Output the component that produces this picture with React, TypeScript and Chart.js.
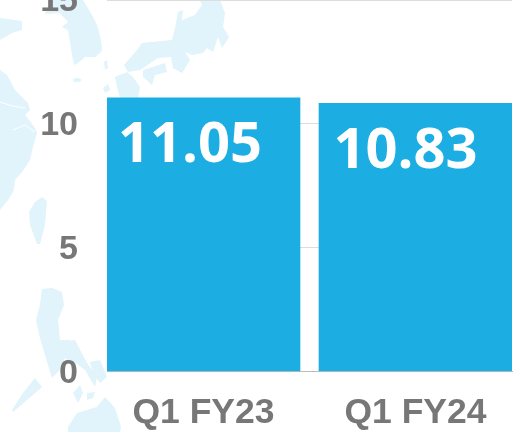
import React, { useEffect, useRef } from "react";
import { Chart, registerables } from "chart.js";

Chart.register(...registerables);

const categories = ["Q1 FY23", "Q1 FY24"];
const seriesValues = [11.05, 10.83];
const valueLabels = ["11.05", "10.83"];
const yTicks = [0, 5, 10, 15];

const mapShapes = [
  "0,18 22,21 22,30 12,33 0,40",
  "45,14 60,13 68,22 62,27 68,30 70,42 72,55 74,65 78,63 85,57 95,57 100,53 102,50 101,40 97,25 92,15 83,0 50,0",
  "0,70 7,75 15,90 28,103 30,110 25,115 35,128 37,133 33,147 30,160 22,172 15,180 14,190 8,200 0,210",
  "42,197 47,201 45,225 40,244 37,244 30,225 29,212 35,202",
  "42,289 52,288 62,292 64,305 58,320 60,340 70,340 82,357 75,365 65,358 60,370 52,378 45,355 40,338 36,320 40,305",
  "68,427 77,413 97,407 105,397 115,408 121,427 120,432 68,432",
  "90,362 100,360 107,377 100,383 93,373",
  "35,378 42,387 27,400 13,412 12,410 23,393",
  "73,393 80,385 83,393 78,403",
  "87,393 95,392 93,398 87,400",
  "48,352 57,357 57,367 52,363",
  "63,342 75,340 87,363 97,377 95,387 85,370 72,360",
  "200,0 220,0 225,13 223,27 229,37 222,48 218,37 213,52 207,48 203,53 192,55 185,52 190,60 182,73 173,68 171,57 158,58 140,70 128,72 124,65 137,50 142,43 172,40 175,28 178,12 183,10 182,20 195,15 202,5",
  "143,70 165,63 167,72 155,75 152,85 143,77",
  "115,77 127,72 133,77 140,87 138,98 120,98 117,87",
  "103,88 108,84 110,90 105,93",
  "104,62 107,60 108,68 105,70",
];

const labelInsets = [11, 14.5];

const valueLabelPlugin = {
  id: "valueLabels",
  beforeDraw(chart: any) {
    chart.scales.y.getLabelItems(chart.chartArea).forEach((item: any) => {
      item.options.translation = [item.options.translation[0], item.options.translation[1] + 2];
    });
  },
  afterDatasetsDraw(chart: any) {
    const { ctx } = chart;
    const meta = chart.getDatasetMeta(0);
    ctx.save();
    ctx.fillStyle = "#ffffff";
    ctx.font = '700 56px "Open Sans"';
    ctx.textAlign = "left";
    ctx.textBaseline = "alphabetic";
    meta.data.forEach((bar: any, i: number) => {
      ctx.fillText(valueLabels[i], bar.x - 96.5 + labelInsets[i], bar.y + 64.5);
    });
    ctx.restore();
  },
};

export default function App() {
  const ref = useRef<HTMLCanvasElement>(null);

  useEffect(() => {
    if (!ref.current) return;
    const chart = new Chart(ref.current, {
      type: "bar",
      data: {
        datasets: [
          {
            data: categories.map((_, i) => ({ x: i, y: seriesValues[i] })),
            backgroundColor: "#1cade2",
            barThickness: 193,
          },
        ],
      },
      options: {
        responsive: false,
        animation: false,
        layout: { padding: { top: 20, right: 15, left: 0, bottom: 0 } },
        plugins: { legend: { display: false }, tooltip: { enabled: false } },
        scales: {
          x: {
            type: "linear",
            offset: false,
            min: -0.4552,
            max: 1.4552,
            grid: { display: false, drawTicks: false, offset: false },
            border: { display: true, color: "#bbbbbb" },
            ticks: {
              stepSize: 1,
              includeBounds: false,
              autoSkip: false,
              maxRotation: 0,
              padding: 20,
              color: "#777777",
              font: { family: '"Liberation Sans"', size: 35.5, weight: "bold" },
              callback: (v: any) => categories[v] ?? "",
            },
            afterFit: (s: any) => {
              s.height = 60.5;
              s.paddingLeft = 0;
              s.paddingRight = 0;
            },
          },
          y: {
            min: yTicks[0],
            max: yTicks[yTicks.length - 1],
            grid: { color: "#dddddd", drawTicks: false, lineWidth: 1 },
            border: { display: false },
            ticks: {
              stepSize: 5,
              padding: 29,
              color: "#777777",
              font: { family: '"Liberation Sans"', size: 34, weight: "bold" },
            },
            afterFit: (s: any) => {
              s.width = 107;
              s.paddingTop = 0;
              s.paddingBottom = 0;
            },
          },
        },
      },
      plugins: [valueLabelPlugin],
    } as any);
    return () => chart.destroy();
  }, []);

  return (
    <div style={{ position: "fixed", left: 0, top: 0, width: 527, height: 432, overflow: "hidden", background: "#fff" }}>
      <svg width={527} height={432} style={{ position: "absolute", left: 0, top: 0 }}>
        {mapShapes.map((p, i) => (
          <polygon key={i} points={p} fill="#e1f3fb" />
        ))}
        <ellipse cx={77} cy={80} rx={4} ry={2} fill="#e1f3fb" />
        <polyline points="0,102 12,106 25,108" fill="none" stroke="#fff" strokeWidth={1} />
        <polyline points="13,130 25,125 35,132" fill="none" stroke="#fff" strokeWidth={1} />
      </svg>
      <canvas ref={ref} width={527} height={452} style={{ position: "absolute", left: 0, top: -20, display: "block" }} />
    </div>
  );
}
